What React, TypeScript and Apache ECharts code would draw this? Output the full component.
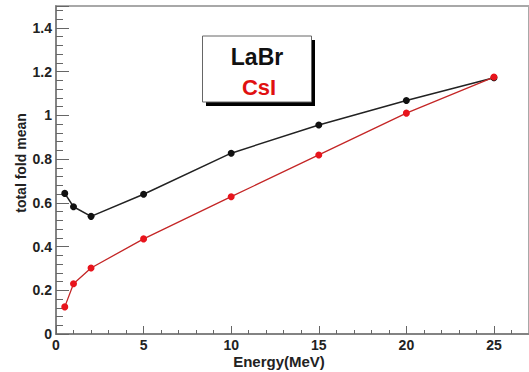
import React, { useEffect, useRef } from 'react';
import * as echarts from 'echarts';

const energy = [0.5, 1, 2, 5, 10, 15, 20, 25];
const labrMean = [0.643, 0.582, 0.538, 0.639, 0.827, 0.956, 1.068, 1.172];
const csiMean = [0.124, 0.23, 0.302, 0.435, 0.628, 0.819, 1.01, 1.175];
const seriesNames = ['LaBr', 'CsI'];
const xTitle = 'Energy(MeV)';
const yTitle = 'total fold mean';

const FONT = '"Liberation Sans", Arial, Helvetica, sans-serif';

export default function App() {
  const ref = useRef<HTMLDivElement>(null);
  useEffect(() => {
    if (!ref.current) return;
    const chart = echarts.init(ref.current, null, { renderer: 'svg' });
    const toPairs = (ys: number[]) => energy.map((x, i) => [x, ys[i]]);
    chart.setOption({
      animation: false,
      backgroundColor: '#ffffff',
      grid: {
        left: 56,
        top: 6,
        right: -2,
        bottom: 38,
        show: true,
        borderColor: '#a8a8a8',
        borderWidth: 2,
        backgroundColor: 'transparent',
      },
      xAxis: {
        type: 'value',
        min: 0,
        max: 27,
        interval: 5,
        axisLine: { show: true, lineStyle: { color: '#777', width: 1.5 } },
        axisTick: { show: true, inside: true, length: 8, lineStyle: { color: '#666', width: 1 } },
        minorTick: { show: true, splitNumber: 5, length: 4, lineStyle: { color: '#666', width: 1 } },
        splitLine: { show: false },
        axisLabel: {
          margin: 4,
          showMaxLabel: false,
          color: '#222',
          fontFamily: FONT,
          fontWeight: 'bold',
          fontSize: 14,
        },
      },
      yAxis: {
        type: 'value',
        min: 0,
        max: 1.5,
        interval: 0.2,
        axisLine: { show: true, lineStyle: { color: '#777', width: 1.5 } },
        axisTick: { show: true, inside: true, length: 13, lineStyle: { color: '#666', width: 1 } },
        minorTick: { show: true, splitNumber: 5, length: 7, lineStyle: { color: '#666', width: 1 } },
        splitLine: { show: false },
        axisLabel: {
          margin: 4,
          showMaxLabel: false,
          color: '#222',
          fontFamily: FONT,
          fontWeight: 'bold',
          fontSize: 14,
          formatter: (v: number) => String(Math.round(v * 10) / 10),
        },
      },
      series: [
        {
          name: seriesNames[0],
          type: 'line',
          data: toPairs(labrMean),
          symbol: 'circle',
          symbolSize: 7,
          lineStyle: { color: '#222', width: 1.5 },
          itemStyle: { color: '#111' },
          z: 3,
        },
        {
          name: seriesNames[1],
          type: 'line',
          data: toPairs(csiMean),
          symbol: 'circle',
          symbolSize: 7,
          lineStyle: { color: '#c42626', width: 1.3 },
          itemStyle: { color: '#e8141c' },
          z: 4,
        },
      ],
      graphic: [
        {
          type: 'text',
          x: 279,
          y: 361,
          style: {
            text: xTitle,
            fill: '#222',
            font: `bold 15px ${FONT}`,
            textAlign: 'center',
            textVerticalAlign: 'middle',
          },
        },
        {
          type: 'text',
          x: 21,
          y: 163,
          rotation: Math.PI / 2,
          style: {
            text: yTitle,
            fill: '#222',
            font: `bold 14px ${FONT}`,
            textAlign: 'center',
            textVerticalAlign: 'middle',
          },
        },
        {
          type: 'rect',
          shape: { x: 206, y: 40, width: 109, height: 66 },
          style: { fill: '#000' },
          z: 10,
        },
        {
          type: 'rect',
          shape: { x: 202.5, y: 36, width: 109, height: 66 },
          style: { fill: '#fff', stroke: '#666', lineWidth: 1 },
          z: 11,
        },
        {
          type: 'text',
          x: 257,
          y: 57,
          z: 12,
          style: {
            text: seriesNames[0],
            fill: '#111',
            font: `bold 23px ${FONT}`,
            textAlign: 'center',
            textVerticalAlign: 'middle',
          },
        },
        {
          type: 'text',
          x: 259,
          y: 87,
          z: 12,
          style: {
            text: seriesNames[1],
            fill: '#e01010',
            font: `bold 22px ${FONT}`,
            textAlign: 'center',
            textVerticalAlign: 'middle',
          },
        },
      ],
    });
    return () => chart.dispose();
  }, []);
  return (
    <div
      ref={ref}
      style={{ position: 'fixed', left: 0, top: 0, width: 529, height: 372, background: '#fff' }}
    />
  );
}
